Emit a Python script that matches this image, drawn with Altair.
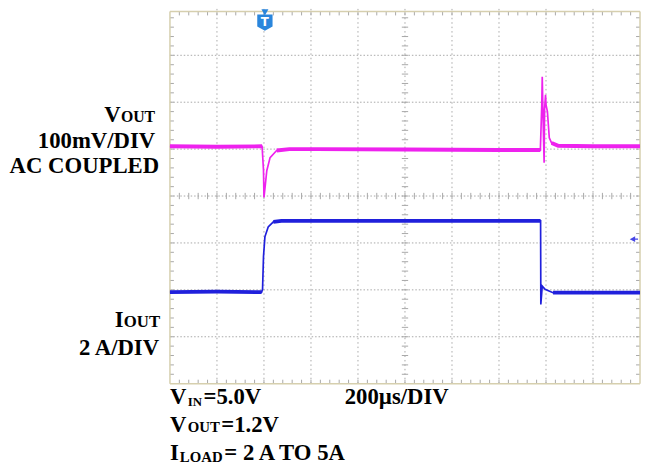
import altair as alt
import pandas as pd

# ---------------- data (time and amplitude in screen divisions) ----------------
vout_t = [0.0, 1.0, 1.96, 1.99, 2.0, 2.03, 2.06, 2.13, 2.27, 2.54, 3.11, 5.0, 7.0, 7.88,
          7.91, 7.92, 7.94, 7.96, 7.97, 7.99, 8.0, 8.03, 8.07, 8.12, 8.26, 9.0, 10.0]
vout_v = [5.06, 5.05, 5.06, 4.55, 3.97, 4.25, 4.54, 4.82, 4.97, 5.0, 5.0, 4.99, 4.98, 4.98,
          5.95, 6.54, 5.55, 4.71, 5.85, 6.16, 5.95, 5.8, 5.24, 5.13, 5.07, 5.06, 5.06]

iout_t = [0.0, 1.0, 1.95, 1.97, 1.99, 2.02, 2.09, 2.2, 2.37, 3.0, 5.0, 7.0, 7.885,
          7.89, 7.92, 7.98, 8.15, 9.0, 10.0]
iout_v = [1.95, 1.96, 1.95, 2.01, 2.71, 3.13, 3.34, 3.45, 3.47, 3.47, 3.47, 3.47, 3.47,
          1.69, 2.08, 2.01, 1.94, 1.94, 1.94]

trigger_t = [2.02]
trig_level_t = [9.87]
trig_level_v = [3.08]
n_xdiv = 10
n_ydiv = 8
minor_per_div = 5

# ---------------- layout ----------------
W, H = 641, 460
X0_PX, X_PX_PER = 164, 47.6      # chart px of t=0, px per division
YTOP_PX, Y_PX_PER = -2.5, 47.5   # chart px of v=8, px per division
xmin = -X0_PX / X_PX_PER
xmax = (W - X0_PX) / X_PX_PER
ymax = n_ydiv + YTOP_PX / Y_PX_PER
ymin = n_ydiv - (H - YTOP_PX) / Y_PX_PER

xs = alt.Scale(domain=[xmin, xmax], nice=False, zero=False)
ys = alt.Scale(domain=[ymin, ymax], nice=False, zero=False)


def X(f):
    return alt.X(f, type="quantitative", scale=xs, axis=None)


def Y(f):
    return alt.Y(f, type="quantitative", scale=ys, axis=None)


GRID = "#a8a8a8"
FRAME = "#d6cfae"
FONT = "Liberation Serif"

# ---------------- grid ----------------
vgrid = pd.DataFrame({"x": list(range(1, n_xdiv)), "y": 0, "y2": n_ydiv})
hgrid = pd.DataFrame({"y": list(range(1, n_ydiv)), "x": 0, "x2": n_xdiv})

vlines = alt.Chart(vgrid).mark_rule(color=GRID, strokeWidth=1, strokeDash=[1.5, 3]).encode(
    x=X("x"), y=Y("y"), y2="y2")
hlines = alt.Chart(hgrid).mark_rule(color=GRID, strokeWidth=1, strokeDash=[1.5, 2]).encode(
    y=Y("y"), x=X("x"), x2="x2")

tl_x = 4 / X_PX_PER
tl_y = 4 / Y_PX_PER
top_v = ymax - 0.6 / Y_PX_PER    # visible top edge of the screen
xticks_pos = [k / minor_per_div for k in range(1, n_xdiv * minor_per_div)]
yticks_pos = [k / minor_per_div for k in range(1, n_ydiv * minor_per_div)]

tick_rows_v = []
for p in xticks_pos:
    tick_rows_v.append({"x": p, "y": n_ydiv / 2 - tl_y * 0.8, "y2": n_ydiv / 2 + tl_y * 0.8})
    tick_rows_v.append({"x": p, "y": 0, "y2": tl_y})
    tick_rows_v.append({"x": p, "y": top_v - tl_y, "y2": top_v})
tick_rows_h = []
for p in yticks_pos:
    tick_rows_h.append({"y": p, "x": n_xdiv / 2 - tl_x * 0.8, "x2": n_xdiv / 2 + tl_x * 0.8})
    tick_rows_h.append({"y": p, "x": 0, "x2": tl_x})
    tick_rows_h.append({"y": p, "x": n_xdiv - tl_x, "x2": n_xdiv})

ticks_v = alt.Chart(pd.DataFrame(tick_rows_v)).mark_rule(color=GRID, strokeWidth=1).encode(
    x=X("x"), y=Y("y"), y2="y2")
ticks_h = alt.Chart(pd.DataFrame(tick_rows_h)).mark_rule(color=GRID, strokeWidth=1).encode(
    y=Y("y"), x=X("x"), x2="x2")

frame_v = alt.Chart(pd.DataFrame({"x": [0, n_xdiv], "y": 0, "y2": top_v})).mark_rule(
    color=FRAME, strokeWidth=1.5).encode(x=X("x"), y=Y("y"), y2="y2")
frame_h = alt.Chart(pd.DataFrame({"y": [0, top_v], "x": 0, "x2": n_xdiv})).mark_rule(
    color=FRAME, strokeWidth=1.5).encode(y=Y("y"), x=X("x"), x2="x2")

# ---------------- traces ----------------
C_V = "#ee22ee"
C_I = "#2020dc"
vdf = pd.DataFrame({"t": vout_t, "v": vout_v, "i": range(len(vout_t))})
idf = pd.DataFrame({"t": iout_t, "v": iout_v, "i": range(len(iout_t))})

v_flat = [(0, 2), (8, 13), (23, 26)]
i_flat = [(0, 2), (7, 12), (16, 18)]


def flat_df(df, groups):
    parts = []
    for g, (a, b) in enumerate(groups):
        p = df.iloc[a:b + 1].copy()
        p["g"] = g
        parts.append(p)
    return pd.concat(parts)


vthin = alt.Chart(vdf).mark_line(color=C_V, strokeWidth=1.7).encode(
    x=X("t"), y=Y("v"), order="i:Q")
vthick = alt.Chart(flat_df(vdf, v_flat)).mark_line(color=C_V, strokeWidth=4).encode(
    x=X("t"), y=Y("v"), order="i:Q", detail="g:N")
ithin = alt.Chart(idf).mark_line(color=C_I, strokeWidth=1.7).encode(
    x=X("t"), y=Y("v"), order="i:Q")
ithick = alt.Chart(flat_df(idf, i_flat)).mark_line(color=C_I, strokeWidth=3.8).encode(
    x=X("t"), y=Y("v"), order="i:Q", detail="g:N")

# ---------------- markers ----------------
tdf = pd.DataFrame({"t": trigger_t})
trig_tri = alt.Chart(tdf).mark_point(shape="triangle-down", filled=True, size=50,
                                     color="#2a86dc", opacity=1).encode(
    x=X("t"), y=alt.value(1.5))
trig_body = alt.Chart(tdf).mark_point(
    shape="M-1,-1 L1,-1 L1,0.55 L0,1.1 L-1,0.55 Z", filled=True, size=240,
    color="#2a86dc", opacity=1).encode(x=X("t"), y=alt.value(11.5))
trig_txt = alt.Chart(tdf).mark_text(text="T", color="white", font="DejaVu Sans",
                                    fontWeight="bold", fontSize=12, baseline="middle").encode(
    x=X("t"), y=alt.value(11.5))

ldf = pd.DataFrame({"t": trig_level_t, "v": trig_level_v})
lvl = alt.Chart(ldf).mark_point(shape="M-1,0 L0.3,-0.7 L0.3,-0.15 L1,-0.15 L1,0.15 L0.3,0.15 L0.3,0.7 Z",
                                filled=True, size=70, color="#4646e6", opacity=1).encode(
    x=X("t"), y=Y("v"))


# ---------------- texts ----------------
def lab(s, x, y, size, align="left"):
    return alt.Chart(pd.DataFrame({"s": [s]})).mark_text(
        font=FONT, fontWeight="bold", fontSize=size, align=align,
        baseline="alphabetic", color="black").encode(
        text="s:N", x=alt.value(x), y=alt.value(y))


texts = [
    lab("V", 114, 113, 23, "right"), lab("OUT", 149, 113, 16, "right"),
    lab("100mV/DIV", 149, 139, 23, "right"),
    lab("AC COUPLED", 153, 164, 23, "right"),
    lab("I", 117, 320, 23, "right"), lab("OUT", 154, 320, 17, "right"),
    lab("2 A/DIV", 153, 348, 23, "right"),
    lab("V", 164, 398, 23), lab("IN", 182, 400, 13), lab("=5.0V", 198, 398, 23),
    lab("200µs/DIV", 341, 398, 23),
    lab("V", 164, 426, 23), lab("OUT", 182, 426, 15), lab("=1.2V", 216, 426, 23),
    lab("I", 164, 455, 23), lab("LOAD", 174, 457, 15), lab("= 2 A TO 5A", 219, 455, 23),
]

chart = alt.layer(
    vlines, hlines, ticks_v, ticks_h, frame_v, frame_h, vthin, vthick, ithin, ithick,
    trig_tri, trig_body, trig_txt, lvl, *texts
).properties(
    width=W, height=H, padding=0,
    autosize=alt.AutoSizeParams(type="none"),
    background="white",
).configure_view(stroke=None)

chart.save("out.html", embed_options={"renderer": "svg", "actions": False})
